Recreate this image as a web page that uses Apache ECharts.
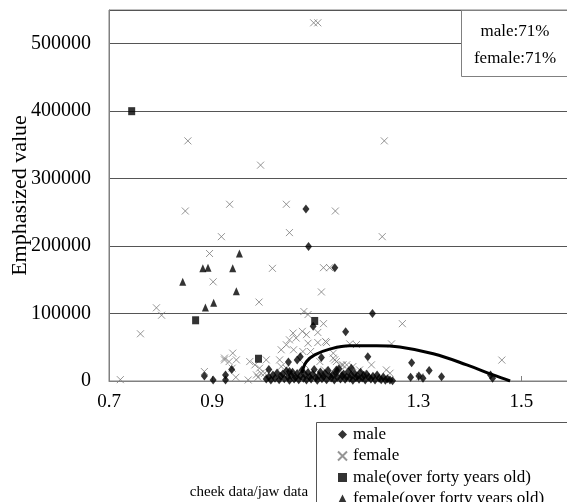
<!DOCTYPE html>
<html>
<head>
<meta charset="utf-8">
<script src="https://cdn.jsdelivr.net/npm/echarts@6/dist/echarts.min.js"></script>
<style>
  html, body { margin: 0; padding: 0; background: #fff; }
  #main { width: 567px; height: 502px; }
</style>
</head>
<body>
<div id="main"></div>
<script>
// tick labels
var xTicks = [0.7, 0.9, 1.1, 1.3, 1.5];
var yTicks = [0, 100000, 200000, 300000, 400000, 500000];

var seriesNames = ['male', 'female', 'male(over forty years old)', 'female(over forty years old)'];

// [cheek/jaw ratio, emphasized value]
var maleData = [
  [1.082, 255000], [1.087, 199500], [1.138, 168000], [1.211, 100000], [1.096, 81000],
  [1.159, 73000], [1.202, 36000], [1.112, 35000], [1.048, 28000], [1.065, 31000],
  [1.071, 36000], [1.010, 17000], [0.938, 17000], [0.926, 9000], [0.885, 7500],
  [0.902, 1500], [0.926, 1500], [1.287, 27000], [1.285, 5500], [1.301, 7500],
  [1.321, 15400], [1.309, 4000], [1.345, 6400], [1.444, 4000], [1.440, 9000],
  [1.050, 14000], [1.141, 16400], [1.170, 19000],
  // dense band near zero
  [1.005, 3000], [1.010, 6000], [1.014, 1500], [1.018, 9000], [1.022, 4000],
  [1.026, 12000], [1.030, 2000], [1.033, 7000], [1.037, 10500], [1.040, 3500],
  [1.044, 15000], [1.047, 6000], [1.050, 1000], [1.053, 8500], [1.056, 13000],
  [1.059, 3000], [1.062, 5500], [1.065, 11000], [1.068, 2000], [1.071, 7500],
  [1.074, 16000], [1.077, 4000], [1.080, 9500], [1.083, 1500], [1.086, 12500],
  [1.089, 6000], [1.092, 3000], [1.095, 10000], [1.098, 17000], [1.101, 5000],
  [1.104, 1000], [1.107, 8000], [1.110, 13500], [1.113, 3500], [1.116, 6500],
  [1.119, 11000], [1.122, 2000], [1.125, 15500], [1.128, 7000], [1.131, 4500],
  [1.134, 9500], [1.137, 1500], [1.140, 12000], [1.143, 5500], [1.146, 18000],
  [1.149, 3000], [1.152, 8000], [1.155, 10500], [1.158, 2500], [1.161, 6000],
  [1.164, 14000], [1.167, 4000], [1.170, 9000], [1.173, 1000], [1.176, 11500],
  [1.179, 5000], [1.182, 7500], [1.185, 2500], [1.188, 13000], [1.191, 4500],
  [1.194, 8500], [1.197, 1500], [1.200, 10000], [1.204, 5500], [1.208, 3000],
  [1.212, 7000], [1.216, 1500], [1.220, 9000], [1.224, 4000], [1.228, 2000],
  [1.232, 6000], [1.236, 1000], [1.240, 3500], [1.245, 1500], [1.250, 500]
];

var femaleData = [
  [1.097, 531000], [1.105, 531000], [0.853, 356000], [1.234, 356000], [0.994, 320000],
  [0.848, 252000], [0.934, 262000], [1.044, 262000], [1.139, 252000], [0.918, 214000],
  [1.230, 214000], [1.050, 220000], [0.895, 189000], [1.017, 167000], [0.902, 147000],
  [1.116, 168000], [1.128, 168000], [1.112, 132000], [0.991, 117000], [0.792, 108500],
  [0.802, 97500], [0.761, 70000], [0.722, 2000], [1.078, 103000], [1.086, 98500],
  [1.116, 85000], [1.269, 85000], [1.075, 73600], [1.083, 68700], [1.105, 72000],
  [1.057, 71000], [1.050, 61000], [1.063, 63700], [1.086, 56000], [1.105, 57000],
  [1.122, 57000], [1.120, 58700], [1.044, 53700], [1.034, 46300], [1.058, 46300],
  [1.076, 43700], [1.091, 43700], [1.167, 55000], [1.180, 54000], [1.248, 55000],
  [0.940, 41300], [0.924, 31300], [0.933, 28800], [0.947, 31300], [0.939, 19000],
  [0.946, 5500], [0.885, 14000], [0.970, 1500], [0.973, 28800], [0.983, 23900],
  [0.992, 19000], [1.005, 31300], [1.002, 11500], [0.989, 5500], [1.031, 31300],
  [1.034, 21400], [1.044, 19000], [1.135, 33800], [1.141, 28800], [1.151, 23900],
  [1.161, 23900], [1.148, 14000], [1.209, 23900], [1.186, 16400], [1.193, 11500],
  [1.238, 16400], [1.245, 11500], [1.462, 31000], [1.303, 6400], [1.135, 41300],
  [1.138, 31300], [1.080, 23900], [1.109, 28800], [1.118, 16400], [1.154, 23900],
  [1.173, 21400], [0.986, 9000], [0.995, 11500], [0.924, 34000]
];

var maleOldData = [
  [0.744, 400000], [0.868, 90000], [0.990, 33000], [1.099, 89000]
];

var femaleOldData = [
  [0.953, 189000], [0.882, 167000], [0.892, 168000], [0.940, 167000],
  [0.843, 147000], [0.947, 133000], [0.887, 109000], [0.903, 116000]
];

// trend curve
var trendData = [
  [1.074, 12000], [1.083, 28800], [1.099, 38800], [1.128, 47300], [1.167, 52200],
  [1.219, 52200], [1.264, 50300], [1.329, 40300], [1.394, 23900], [1.445, 9000],
  [1.478, 0]
];

var serif = '"Liberation Serif", "Times New Roman", serif';
var crossPath = 'path://M0,0L10,10M10,0L0,10';

var chart = echarts.init(document.getElementById('main'), null, { renderer: 'canvas' });

var option = {
  backgroundColor: '#ffffff',
  animation: false,
  grid: {
    left: 109,
    top: 10,
    right: -6,
    bottom: 121,
    outerBoundsMode: 'none',
    containLabel: false,
    show: true,
    borderColor: '#808080',
    borderWidth: 1,
    backgroundColor: '#ffffff'
  },
  legend: {
    orient: 'vertical',
    left: 332,
    top: 421,
    height: 150,
    itemGap: 4.5,
    itemWidth: 9,
    itemHeight: 9,
    data: seriesNames,
    textStyle: { fontFamily: serif, fontSize: 17, color: '#000', padding: [0, 0, 0, 1] }
  },
  xAxis: {
    type: 'value',
    min: 0.7,
    max: 1.6,
    splitLine: { show: false },
    axisLine: { lineStyle: { color: '#808080' } },
    axisTick: { show: true, inside: true, length: 5, customValues: xTicks, lineStyle: { color: '#808080' } },
    axisLabel: {
      customValues: xTicks,
      margin: 12,
      fontFamily: serif,
      fontSize: 19,
      color: '#000',
      formatter: function (v) { return v.toFixed(1); }
    }
  },
  yAxis: {
    type: 'value',
    min: 0,
    max: 550000,
    interval: 100000,
    name: 'Emphasized value',
    nameLocation: 'middle',
    nameGap: 78,
    nameMoveOverlap: false,
    nameTextStyle: { fontFamily: serif, fontSize: 22, color: '#000' },
    axisLine: { show: true, lineStyle: { color: '#808080' } },
    axisTick: { show: false },
    splitLine: { lineStyle: { color: '#555', width: 1 } },
    axisLabel: {
      customValues: yTicks,
      margin: 18,
      fontFamily: serif,
      fontSize: 20,
      color: '#000',
      formatter: function (v) { return String(v); }
    }
  },
  graphic: [
    {
      type: 'rect', left: 461, top: 10, z: 100,
      shape: { width: 120, height: 66 },
      style: { fill: '#fff', stroke: '#808080', lineWidth: 1 }
    },
    {
      type: 'text', x: 515, y: 32, z: 101,
      style: { text: 'male:71%', font: '17px ' + serif, fill: '#000', align: 'center', verticalAlign: 'middle' }
    },
    {
      type: 'text', x: 515, y: 59, z: 101,
      style: { text: 'female:71%', font: '17px ' + serif, fill: '#000', align: 'center', verticalAlign: 'middle' }
    },
    {
      type: 'rect', left: 316, top: 422, z: -1,
      shape: { width: 300, height: 120 },
      style: { fill: '#fff', stroke: '#555', lineWidth: 1 }
    },
    {
      type: 'text', x: 249, y: 492,
      style: { text: 'cheek data/jaw data', font: '15px ' + serif, fill: '#000', align: 'center', verticalAlign: 'middle' }
    }
  ],
  series: [
    {
      name: 'female',
      type: 'scatter',
      symbol: crossPath,
      symbolSize: 7,
      itemStyle: { color: 'rgba(0,0,0,0)', borderColor: '#7a7a7a', borderWidth: 1 },
      data: femaleData
    },
    {
      name: 'male',
      type: 'scatter',
      symbol: 'diamond',
      symbolSize: [7, 9],
      itemStyle: { color: '#000' },
      data: maleData
    },
    {
      name: 'male(over forty years old)',
      type: 'scatter',
      symbol: 'rect',
      symbolSize: [7, 8],
      itemStyle: { color: '#000' },
      data: maleOldData
    },
    {
      name: 'female(over forty years old)',
      type: 'scatter',
      symbol: 'triangle',
      symbolSize: [7, 8],
      itemStyle: { color: '#000' },
      data: femaleOldData
    },
    {
      name: 'trend',
      type: 'line',
      smooth: 0.4,
      showSymbol: false,
      lineStyle: { color: '#000', width: 3 },
      data: trendData,
      z: 5
    }
  ]
};

chart.setOption(option);
</script>
</body>
</html>
